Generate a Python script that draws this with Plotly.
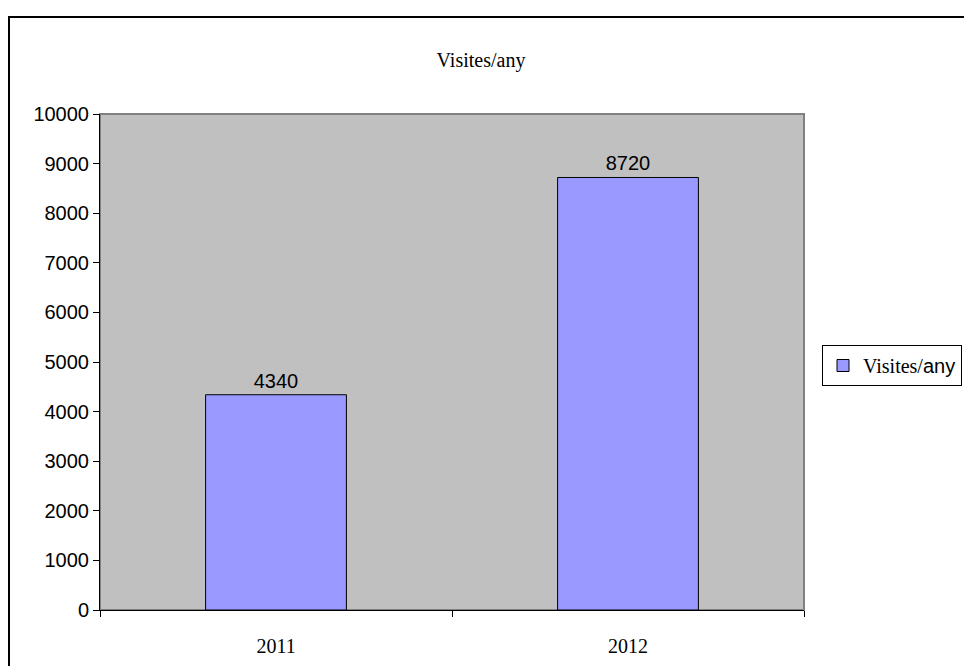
import plotly.graph_objects as go

categories = ["2011", "2012"]
values = [4340, 8720]
series_name = ("<span style=\"font-family:'Liberation Serif'\">Visites/</span>"
               "<span style=\"font-family:'Liberation Sans'\">any</span>")
title_text = "Visites/any"
y_ticks = [0, 1000, 2000, 3000, 4000, 5000, 6000, 7000, 8000, 9000, 10000]
y_tick_labels = [str(v) for v in y_ticks]

W, H = 964, 666
L, R, T, B = 100, 804, 114, 610
pw, ph = R - L, B - T

fig = go.Figure()
fig.add_trace(go.Bar(
    x=categories, y=values, name=series_name,
    marker=dict(color="#9999FF", line=dict(color="black", width=1)),
    text=[str(v) for v in values], textposition="outside",
    textfont=dict(family="Liberation Sans, Arial", size=20, color="black"),
    cliponaxis=False, showlegend=True,
))

fig.update_layout(
    width=W, height=H,
    margin=dict(l=L, r=W - R, t=T, b=H - B, pad=0, autoexpand=False),
    paper_bgcolor="white", plot_bgcolor="#C0C0C0",
    bargap=0.6,
    title=dict(text=title_text, x=481 / W, xanchor="center", y=1 - 60 / H, yanchor="middle",
               font=dict(family="Liberation Serif, Times New Roman", size=20, color="black")),
    xaxis=dict(showgrid=False, showline=True, linecolor="black", linewidth=1,
               ticks="outside", tickson="boundaries", ticklen=6, tickcolor="black",
               tickfont=dict(family="Liberation Serif, Times New Roman", size=20, color="black"),
               ticklabelstandoff=18),
    yaxis=dict(range=[0, 10000], tickvals=y_ticks, ticktext=y_tick_labels,
               showgrid=False, zeroline=False,
               showline=True, linecolor="black", linewidth=1,
               ticks="outside", ticklen=6, tickcolor="black",
               tickfont=dict(family="Liberation Sans, Arial", size=20, color="black")),
    legend=dict(x=(822 - L) / pw, y=(B - 345) / ph, xanchor="left", yanchor="top",
                bordercolor="black", borderwidth=1, bgcolor="white",
                font=dict(family="Liberation Serif, Times New Roman", size=20, color="black"),
                itemwidth=30, tracegroupgap=0),
)

# plot area border (gray)
fig.add_shape(type="rect", xref="paper", yref="paper", x0=0, y0=0, x1=1, y1=1,
              line=dict(color="#808080", width=2), layer="below")
# outer chart border
fig.add_shape(type="rect", xref="paper", yref="paper",
              x0=(9 - L) / pw, y0=(B - 700) / ph, x1=(1000 - L) / pw, y1=(B - 17) / ph,
              line=dict(color="black", width=2))

fig.write_html("out.html", config={"displayModeBar": False},
               post_script="document.body.style.margin='0';document.body.style.overflow='hidden';")
